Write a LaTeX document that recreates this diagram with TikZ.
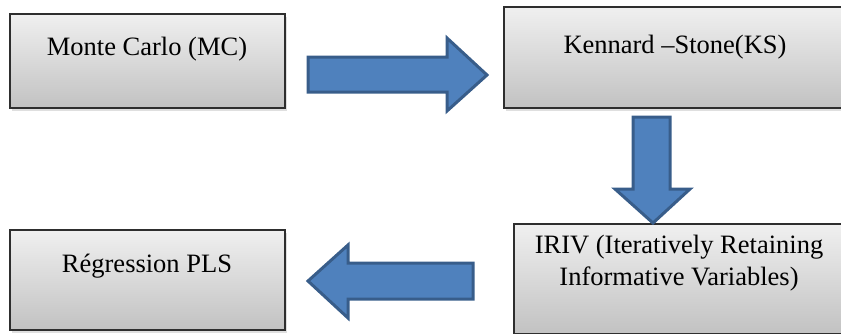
\documentclass[tikz,border=0pt]{standalone}
\usepackage{fontspec}
\setmainfont{Liberation Serif}
\usetikzlibrary{shadows}
\definecolor{arrfill}{HTML}{4F81BD}
\definecolor{arrline}{HTML}{385D8A}
\definecolor{boxline}{HTML}{2E2E2E}
\begin{document}
\begin{tikzpicture}[x=1pt,y=-1pt,
  box/.style={draw=boxline, line width=1.5pt, top color=gray!12, bottom color=gray!48,
    drop shadow={opacity=0.25, shadow xshift=2pt, shadow yshift=-3pt}, inner sep=0pt},
  lbl/.style={font=\fontsize{26.5}{32}\selectfont, text=black, inner sep=0pt, align=center},
  blockarrow/.style={fill=arrfill, draw=arrline, line width=3pt, line join=miter}]
\useasboundingbox (0,0) rectangle (841,333);
\clip (0,0) rectangle (841,333);
\node[box, minimum width=275pt, minimum height=94pt] (mc) at (147.5,61) {};
\node[lbl, anchor=base] (mct) at (147,55) {Monte Carlo (MC)};
\node[box, minimum width=345pt, minimum height=101pt] (ks) at (676.5,57.5) {};
\node[lbl, anchor=base] (kst) at (675,53) {Kennard –Stone(KS)};
\node[box, minimum width=335pt, minimum height=110pt] (iriv) at (681.5,279) {};
\node[lbl, anchor=base] (irivt1) at (679,253) {IRIV (Iteratively Retaining};
\node[lbl, anchor=base] (irivt2) at (679,285) {Informative Variables)};
\node[box, minimum width=275pt, minimum height=100pt] (pls) at (147.5,280) {};
\node[lbl, anchor=base] (plst) at (147,272) {Régression PLS};
% block arrows
\draw[blockarrow] (308,57) -- (447,57) -- (447,38) -- (487,75) -- (447,111) -- (447,92) -- (308,92) -- cycle;
\draw[blockarrow] (633,117) -- (670,117) -- (670,189) -- (690,189) -- (653,223) -- (615,189) -- (633,189) -- cycle;
\draw[blockarrow] (473,263) -- (348,263) -- (348,245) -- (308,281) -- (348,318) -- (348,299) -- (473,299) -- cycle;
\end{tikzpicture}
\end{document}
